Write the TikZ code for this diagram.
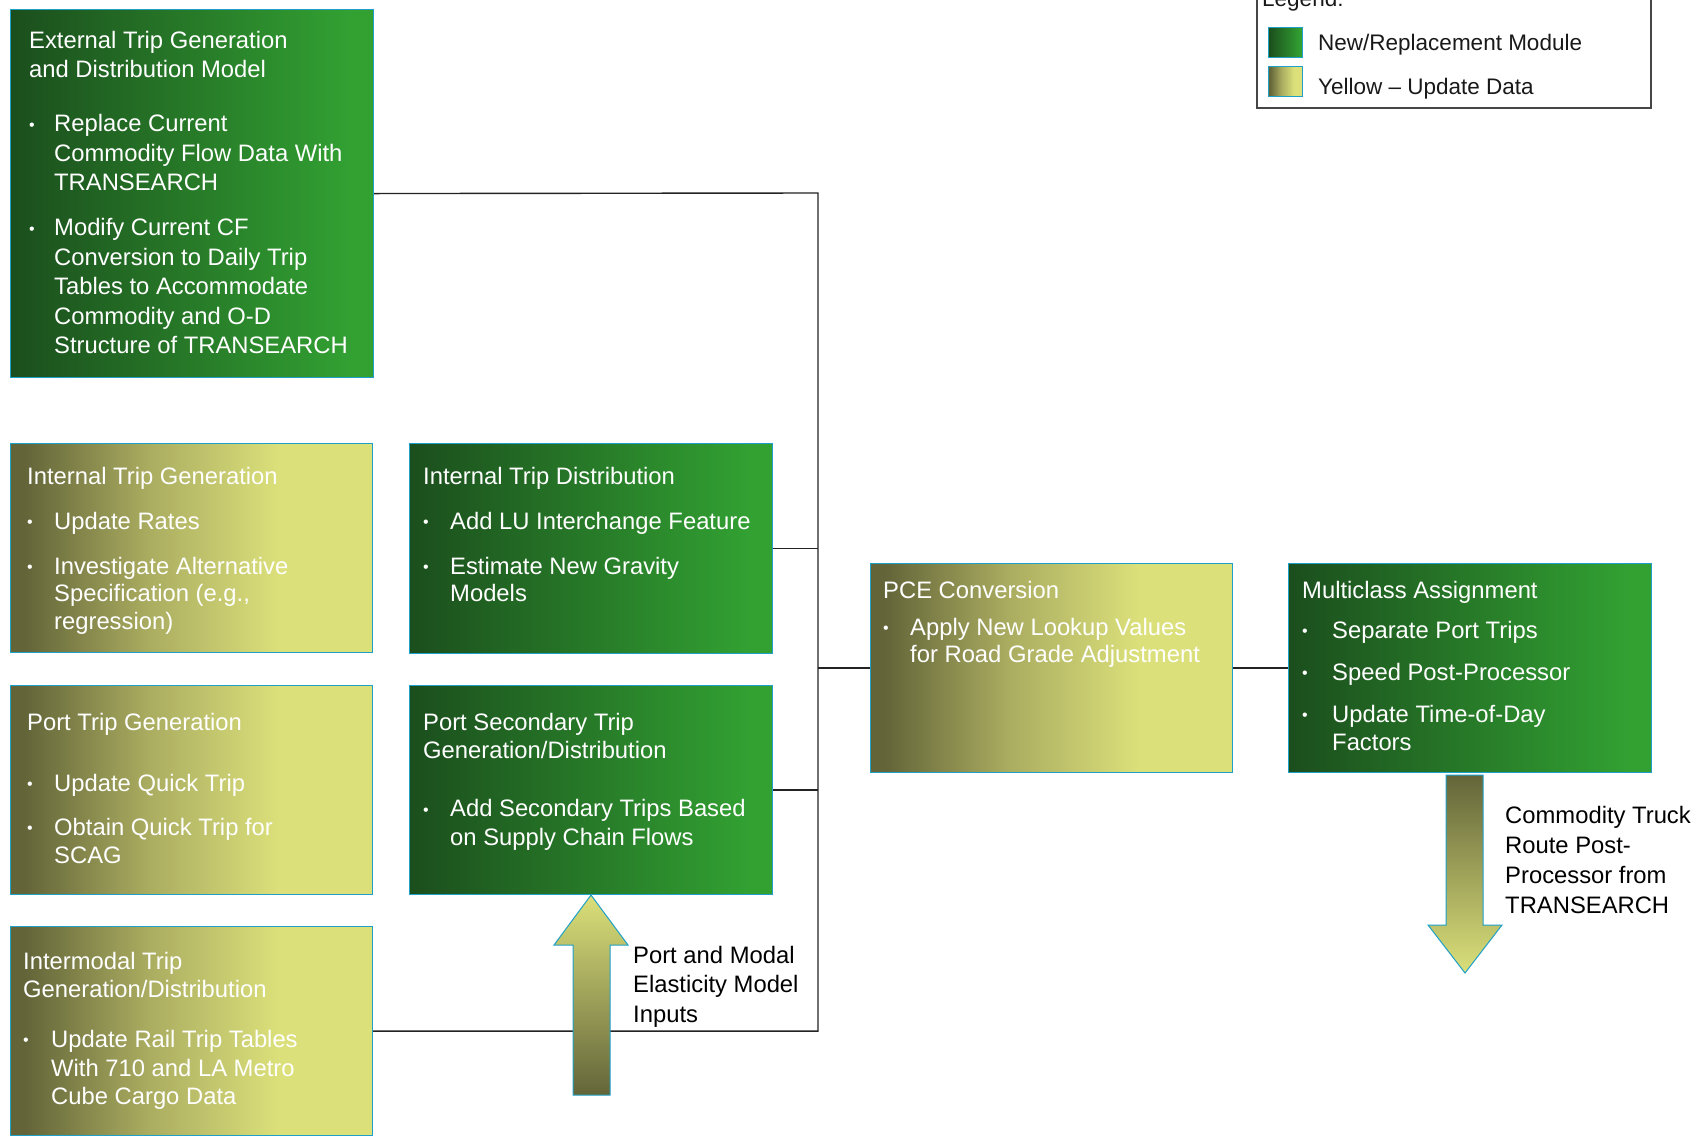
\documentclass[tikz,border=0pt]{standalone}
\usepackage{fontspec}
\setmainfont{Liberation Sans}
\definecolor{gL}{RGB}{27,78,29}
\definecolor{gR}{RGB}{50,161,50}
\definecolor{yL}{RGB}{99,101,57}
\definecolor{yM}{RGB}{170,172,96}
\definecolor{yR}{RGB}{219,224,122}
\definecolor{bordc}{RGB}{30,160,200}
\definecolor{linec}{RGB}{35,35,35}
\definecolor{legc}{RGB}{70,70,70}
\pgfdeclarehorizontalshading{greensh}{100bp}{color(0bp)=(gL); color(25bp)=(gL); color(72bp)=(gR); color(100bp)=(gR)}
\pgfdeclarehorizontalshading{yellowsh}{100bp}{color(0bp)=(yL); color(27bp)=(yL); color(44bp)=(yM); color(62bp)=(yR); color(100bp)=(yR)}
\newcommand{\boxtitle}[1]{\multicolumn{2}{@{}l@{}}{#1}}
\newcommand{\bul}{\raisebox{1.5pt}{\fontsize{16}{16}\selectfont\textbullet}}
\begin{document}
\begin{tikzpicture}[x=1pt,y=-1pt,
  box/.style={rectangle, draw=bordc, line width=1.1pt, anchor=north west, inner sep=0pt},
  gbox/.style={box, shading=greensh},
  ybox/.style={box, shading=yellowsh},
  txt/.style={anchor=base west, inner sep=0pt, text=white, font=\fontsize{23.8}{#1}\selectfont},
  note/.style={anchor=base west, inner sep=0pt, text=black, font=\fontsize{23.8}{#1}\selectfont},
  legtxt/.style={anchor=base west, inner sep=0pt, text=black!90, font=\fontsize{22.5}{27}\selectfont},
  conn/.style={draw=linec, line width=1.4pt},
  barrow/.style={draw=bordc, line width=1pt}]
\useasboundingbox[fill=white] (0,0) rectangle (1702,1136);

% boxes
\node[gbox, minimum width=363pt, minimum height=368pt] (ext) at (10,9) {};
\node[ybox, minimum width=362pt, minimum height=209pt] (itg) at (10,443) {};
\node[gbox, minimum width=363pt, minimum height=210pt] (itd) at (409,443) {};
\node[ybox, minimum width=362pt, minimum height=209pt] (ptg) at (10,685) {};
\node[gbox, minimum width=363pt, minimum height=209pt] (psd) at (409,685) {};
\node[ybox, minimum width=362pt, minimum height=209pt] (intm) at (10,926) {};
\node[ybox, minimum width=362pt, minimum height=209pt] (pce) at (870,563) {};
\node[gbox, minimum width=363pt, minimum height=209pt] (mca) at (1288,563) {};

% connectors
\coordinate (bus) at (818,193);
\draw[conn] (ext.east) -- (bus) -- (bus |- intm.east) -- (intm.east);
\draw[conn] (itd.east) -- (itd.east -| bus);
\draw[conn] (psd.east) -- (psd.east -| bus);
\draw[conn] (pce.west -| bus) -- (pce.west);
\draw[conn] (pce.east) -- (mca.west);

% block arrows
\path[barrow, top color=yR, bottom color=yL]
  (573,1095) -- (573,945) -- (554,945) -- (591,895) -- (628,945) -- (610,945) -- (610,1095) -- cycle;
\path[barrow, top color=yL, bottom color=yR]
  (1446,775) -- (1446,925) -- (1428,925) -- (1465,973) -- (1502,925) -- (1483,925) -- (1483,775) -- cycle;

% box texts
\node[txt=29.5] (t1) at (29,48) {\begin{tabular}[t]{@{}p{25pt}@{}l@{}}
\boxtitle{External Trip Generation}\\
\boxtitle{and Distribution Model}\\[24.5pt]
\bul & Replace Current\\
 & Commodity Flow Data With\\
 & TRANSEARCH\\[15.5pt]
\bul & Modify Current CF\\
 & Conversion to Daily Trip\\
 & Tables to Accommodate\\
 & Commodity and O-D\\
 & Structure of TRANSEARCH
\end{tabular}};

\node[txt=27.5] (t2) at (27,484) {\begin{tabular}[t]{@{}p{27pt}@{}l@{}}
\boxtitle{Internal Trip Generation}\\[17.5pt]
\bul & Update Rates\\[17.5pt]
\bul & Investigate Alternative\\
 & Specification (e.g.,\\
 & regression)
\end{tabular}};

\node[txt=27.5] (t3) at (423,484) {\begin{tabular}[t]{@{}p{27pt}@{}l@{}}
\boxtitle{Internal Trip Distribution}\\[17.5pt]
\bul & Add LU Interchange Feature\\[17.5pt]
\bul & Estimate New Gravity\\
 & Models
\end{tabular}};

\node[txt=28] (t4) at (27,730) {\begin{tabular}[t]{@{}p{27pt}@{}l@{}}
\boxtitle{Port Trip Generation}\\[33pt]
\bul & Update Quick Trip\\[16pt]
\bul & Obtain Quick Trip for\\
 & SCAG
\end{tabular}};

\node[txt=28.5] (t5) at (423,730) {\begin{tabular}[t]{@{}p{27pt}@{}l@{}}
\boxtitle{Port Secondary Trip}\\
\boxtitle{Generation/Distribution}\\[29.5pt]
\bul & Add Secondary Trips Based\\
 & on Supply Chain Flows
\end{tabular}};

\node[txt=28.7] (t6) at (23,969) {\begin{tabular}[t]{@{}p{28pt}@{}l@{}}
\boxtitle{Intermodal Trip}\\
\boxtitle{Generation/Distribution}\\[21pt]
\bul & Update Rail Trip Tables\\
 & With 710 and LA Metro\\
 & Cube Cargo Data
\end{tabular}};

\node[txt=27] (t7) at (883,598) {\begin{tabular}[t]{@{}p{27pt}@{}l@{}}
\boxtitle{PCE Conversion}\\[10pt]
\bul & Apply New Lookup Values\\
 & for Road Grade Adjustment
\end{tabular}};

\node[txt=28] (t8) at (1302,598) {\begin{tabular}[t]{@{}p{30pt}@{}l@{}}
\boxtitle{Multiclass Assignment}\\[12pt]
\bul & Separate Port Trips\\[14pt]
\bul & Speed Post-Processor\\[14pt]
\bul & Update Time-of-Day\\
 & Factors
\end{tabular}};

% notes
\node[note=29.5] (n1) at (633,963) {\begin{tabular}[t]{@{}l@{}}Port and Modal\\Elasticity Model\\Inputs\end{tabular}};
\node[note=30] (n2) at (1505,823) {\begin{tabular}[t]{@{}l@{}}Commodity Truck\\Route Post-\\Processor from\\TRANSEARCH\end{tabular}};

% legend
\node[draw=legc, line width=1.5pt, anchor=north west, minimum width=394pt, minimum height=137pt, inner sep=0pt] (leg) at (1256,-30) {};
\node[legtxt] (l0) at (1262,6) {Legend:};
\node[gbox, minimum width=34pt, minimum height=30pt] (sw1) at (1268,27) {};
\node[ybox, minimum width=34pt, minimum height=30pt] (sw2) at (1268,66) {};
\node[legtxt] (l1) at (1318,50) {New/Replacement Module};
\node[legtxt] (l2) at (1318,94) {Yellow – Update Data};
\end{tikzpicture}
\end{document}
